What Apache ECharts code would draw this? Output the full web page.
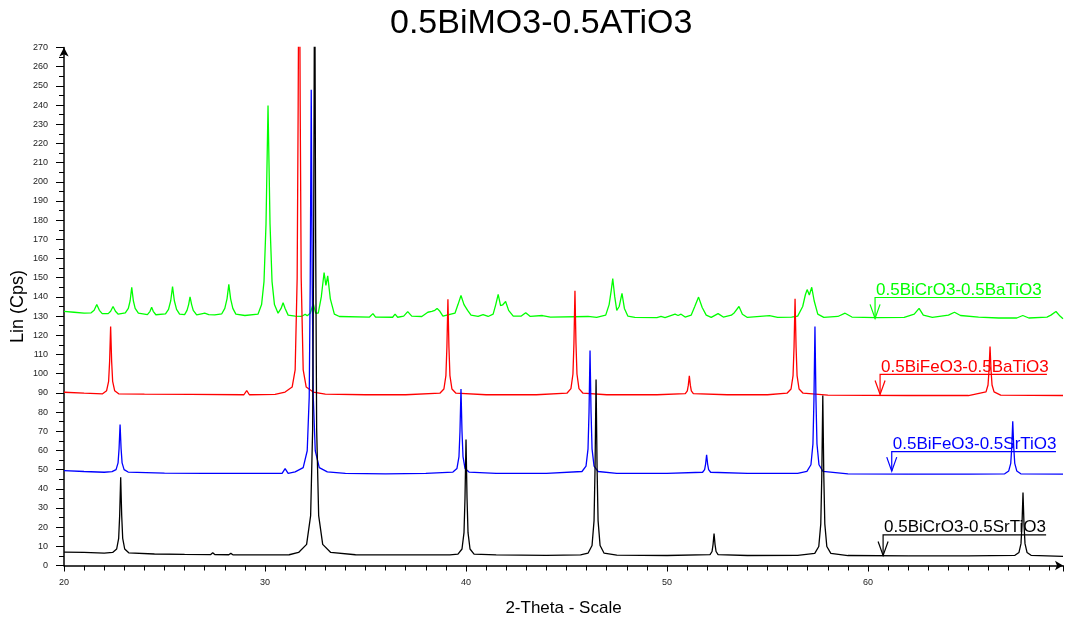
<!DOCTYPE html>
<html>
<head>
<meta charset="utf-8">
<script src="https://cdn.jsdelivr.net/npm/echarts@6/dist/echarts.min.js"></script>
<style>
html,body{margin:0;padding:0;background:#fff;}
#main{width:1065px;height:622px;}
</style>
</head>
<body>
<div id="main"></div>
<script>
// ---- data (2-theta, counts) ----
const titleText = '0.5BiMO3-0.5ATiO3';
const xAxisName = '2-Theta - Scale';
const yAxisName = 'Lin (Cps)';
const seriesNames = ['0.5BiCrO3-0.5BaTiO3', '0.5BiFeO3-0.5BaTiO3', '0.5BiFeO3-0.5SrTiO3', '0.5BiCrO3-0.5SrTiO3'];

const greenData = [
[20.0,132.5],[20.5,132],[21.0,131.5],[21.35,131.7],[21.5,133],[21.63,136],[21.76,133],[21.9,131.3],
[22.2,131.3],[22.32,132.5],[22.44,135],[22.56,132.5],[22.7,131],
[23.05,131.7],[23.2,134],[23.29,138],[23.37,145],[23.45,138],[23.54,134],[23.7,131.5],
[24.15,130.8],[24.28,132.5],[24.36,134.6],[24.44,132.5],[24.57,130.7],
[25.05,131.2],[25.2,133.5],[25.31,138],[25.4,145.4],[25.49,138],[25.6,133.5],[25.75,131],
[26.0,130.8],[26.12,133],[26.2,136],[26.27,140],[26.35,136],[26.43,133],[26.6,130.6],
[26.9,131.3],[27.0,131.5],[27.2,130.8],[27.5,130.6],
[27.85,131.2],[28.0,134],[28.11,139],[28.2,146.5],[28.29,139],[28.4,134],[28.55,131],
[29.0,130.3],[29.65,131],[29.83,136],[29.95,148],[30.05,178],[30.15,239.8],[30.25,178],[30.35,148],[30.47,136],[30.65,131.5],
[30.8,134],[30.9,137],[31.0,134],[31.15,130.5],
[31.5,130],[31.8,129.8],[31.9,130.3],[32.0,131],[32.1,130.2],[32.25,131.5],[32.4,136.5],[32.52,131.5],[32.65,131.5],[32.8,140],[32.94,152.7],[33.03,146],[33.12,151],[33.25,139],[33.45,131],[33.7,129.8],
[35.2,129.5],[35.37,131.3],[35.5,129.5],[36.35,129.4],[36.47,131],[36.6,129.4],[36.9,130],[37.1,132.3],[37.3,130],[37.8,129.8],[38.1,132],[38.3,132.5],[38.45,133],[38.56,134],[38.7,132.5],[38.85,130],
[39.45,131.5],[39.6,136],[39.75,140.7],[39.9,136],[40.08,133],[40.25,130.5],[40.6,129.8],[40.85,130.8],[41.1,129.8],
[41.35,131],[41.48,136],[41.6,141.3],[41.72,135.5],[41.82,135.8],[41.97,137.6],[42.12,133],[42.35,130],
[42.75,130],[42.97,131.8],[43.2,129.8],[43.8,130.3],[44.2,129.5],[46.07,129.8],[46.5,129.3],
[46.95,130.5],[47.12,136],[47.22,143],[47.3,149.6],[47.4,140],[47.5,133],[47.62,135],[47.76,141.8],[47.88,134],[48.05,130],[48.4,129.3],
[49.5,129.2],[49.7,129.8],[49.9,129.2],[50.4,131],[50.55,130.3],[50.7,131],[50.9,129.5],
[51.2,130.5],[51.38,135],[51.57,139.9],[51.75,134.5],[51.95,130.5],[52.2,129.3],
[52.54,131.3],[52.8,129.5],[53.2,130.5],[53.35,131.8],[53.58,135],[53.75,131],[54.0,129.3],
[55.1,130.2],[55.5,129.3],[56.2,129.5],[56.5,130],[56.75,135],[56.88,141],[56.97,143.8],[57.08,141],[57.2,145],[57.32,138],[57.5,131],[57.8,129.3],
[58.5,129.8],[58.86,131.5],[59.2,129.5],[60.4,129.2],[61.8,129.3],[62.3,131],[62.54,134],[62.75,130.5],[63.2,129.3],
[64.0,130.5],[64.3,132],[64.6,130.3],[65.5,129.5],[66.5,129],[67.4,129],[67.7,130.3],[68.0,129],[68.9,129.5],[69.1,130.5],[69.35,132.4],[69.55,130],[69.7,128.6]
];

const redData = [
[20.0,90.3],[21.0,89.8],[21.92,89.5],[22.12,91.1],[22.22,96],[22.27,106.5],[22.32,124.6],[22.37,106.5],[22.42,96],[22.52,91.1],[22.72,89.5],
[24.0,89.3],[26.3,89.2],[28.95,89.0],[29.09,91.2],[29.22,89.0],[30.5,89.2],
[31.0,90.4],[31.35,93],[31.5,102],[31.6,150],[31.65,240],[31.7,360],[31.75,240],[31.8,150],[31.9,102],[32.05,93],[32.4,90.4],[33.0,89.3],[35.0,89.0],
[37.0,89.0],[38.7,89.8],[38.9,92],[39.0,99],[39.05,114],[39.1,138.8],[39.15,114],[39.2,99],[39.3,92],[39.5,89.8],[41.0,89.0],
[43.5,89.0],[45.02,89.8],[45.22,92.2],[45.32,99.8],[45.37,116],[45.42,143.2],[45.47,116],[45.52,99.8],[45.62,92.2],[45.82,89.8],[47.0,89.0],
[49.5,89.0],[50.91,89.6],[51.01,91],[51.06,94],[51.11,98.9],[51.16,94],[51.21,91],[51.31,89.6],[53.0,89.0],
[55.0,89.0],[55.97,89.8],[56.17,92],[56.27,99],[56.32,114],[56.37,139],[56.42,114],[56.47,99],[56.57,92],[56.77,89.8],[58.0,88.8],
[62.0,88.6],[65.0,88.6],[65.87,90.5],[65.97,94.1],[66.02,101.8],[66.07,114.2],[66.12,101.8],[66.17,94.1],[66.27,90.5],[66.6,88.8],[69.7,88.6]
];

const blueData = [
[20.0,49.5],[21.0,49.0],[22.0,48.6],[22.39,48.9],[22.59,50],[22.69,53.5],[22.74,61],[22.79,73.5],[22.84,61],[22.89,53.5],[22.99,50],[23.19,48.7],
[25.0,48.2],[27.0,48.0],[29.0,48.0],[30.85,48.0],[31.0,50.5],[31.15,48.0],
[31.5,48.8],[31.9,51],[32.1,59.8],[32.2,88],[32.25,148],[32.3,248],[32.35,148],[32.4,88],[32.5,59.8],[32.7,51],[33.1,48.8],[34.0,48.0],
[36.0,47.8],[38.0,48.0],[39.35,48.7],[39.55,50.6],[39.65,56.8],[39.7,70],[39.75,92],[39.8,70],[39.85,56.8],[39.95,50.6],[40.15,48.7],[41.5,48.0],
[44.0,48.0],[45.77,49],[45.97,51.8],[46.07,60.8],[46.12,80],[46.17,112],[46.22,80],[46.27,60.8],[46.37,51.8],[46.57,49],[47.5,48.0],
[50.0,48.0],[51.77,48.6],[51.87,50],[51.92,52.9],[51.97,57.7],[52.02,52.9],[52.07,50],[52.17,48.6],[54.0,48.0],
[56.5,48.0],[56.96,49.1],[57.16,52.5],[57.26,63.4],[57.31,86.5],[57.36,124.6],[57.41,86.5],[57.46,63.4],[57.56,52.5],[57.76,49.1],[59.0,47.8],
[62.0,47.6],[65.0,47.6],[66.8,47.8],[67.0,49.3],[67.1,53.2],[67.15,61.5],[67.2,75.2],[67.25,61.5],[67.3,53.2],[67.4,49.3],[67.6,47.8],[69.7,47.6]
];

const blackData = [
[20.0,7.0],[21.0,6.8],[22.0,6.5],
[22.42,6.8],[22.62,8.6],[22.72,14.2],[22.77,26.2],[22.82,46],[22.87,26.2],[22.92,14.2],[23.02,8.6],[23.22,6.6],
[24.5,6.0],[26.0,5.8],[27.3,5.7],[27.4,6.6],[27.5,5.7],[28.2,5.6],[28.3,6.3],[28.4,5.6],[30.0,5.5],[31.2,5.6],
[31.67,6.8],[32.07,11],[32.27,26],[32.37,71],[32.42,170],[32.47,330],[32.52,170],[32.57,71],[32.67,26],[32.87,11],[33.27,6.8],[34.5,5.6],
[36.0,5.5],[38.0,5.5],[39.2,5.5],[39.6,5.9],[39.8,8.6],[39.9,17.1],[39.95,35.3],[40.0,65.7],[40.05,35.3],[40.1,17.1],[40.2,8.6],[40.4,5.9],[41.5,5.5],
[44.0,5.3],[45.7,5.5],[46.07,6.4],[46.27,10.4],[46.37,23.4],[46.42,51],[46.47,97],[46.52,51],[46.57,23.4],[46.67,10.4],[46.87,6.4],[47.5,5.4],
[50.0,5.2],[52.14,5.7],[52.24,7.3],[52.29,10.9],[52.34,16.7],[52.39,10.9],[52.44,7.3],[52.54,5.7],[54.0,5.2],
[56.5,5.3],[57.35,6.3],[57.55,9.9],[57.65,21.7],[57.7,46.8],[57.75,88.6],[57.8,46.8],[57.85,21.7],[57.95,9.9],[58.15,6.3],[59.0,5.2],
[62.0,5.0],[65.0,5.0],[67.31,5.3],[67.51,6.8],[67.61,11.4],[67.66,21.3],[67.71,38],[67.76,21.3],[67.81,11.4],[67.91,6.8],[68.11,5.3],[69.7,4.8]
];

// axis ranges
const xMin = 20, xMax = 69.7, xStep = 10;
const yMin = 0, yMax = 270, yStep = 10;

// curve annotations: [arrow x, underline y, arrow tip y, underline end x] in data units
const annoGreen = [60.35, 139.7, 128.8, 68.59];
const annoRed   = [60.6, 99.6, 89.1, 68.9];
const annoBlue  = [61.18, 59.4, 49.2, 69.35];
const annoBlack = [60.75, 16.0, 5.2, 68.86];

// ---- chart ----
const colors = ['#00ff00', '#ff0000', '#0000ff', '#000000'];
const datasets = [greenData, redData, blueData, blackData];
const annos = [annoGreen, annoRed, annoBlue, annoBlack];
const FONT = 'Liberation Sans, Arial, sans-serif';
const NARROW = 'Liberation Sans Narrow, Arial Narrow, Liberation Sans, Arial, sans-serif';

const chart = echarts.init(document.getElementById('main'), null, {renderer: 'canvas'});
const option = {
  animation: false,
  backgroundColor: '#ffffff',
  title: {
    text: titleText, left: 385, top: 2,
    textStyle: {fontFamily: FONT, fontSize: 34, fontWeight: 'normal', color: '#000'}
  },
  grid: {left: 64, right: 2, top: 47.5, bottom: 56.5, containLabel: false, outerBoundsMode: 'none'},
  xAxis: {
    type: 'value', min: xMin, max: xMax, interval: xStep,
    name: xAxisName, nameLocation: 'middle', nameGap: 34, nameMoveOverlap: false,
    nameTextStyle: {fontFamily: FONT, fontSize: 17, color: '#000'},
    axisLine: {show: true, lineStyle: {color: '#000', width: 1.5}, symbol: ['none', 'arrow'], symbolSize: [7, 8]},
    axisTick: {show: true, length: 6, lineStyle: {color: '#000'}},
    minorTick: {show: true, splitNumber: 10, length: 5, lineStyle: {color: '#000'}},
    axisLabel: {fontFamily: NARROW, fontSize: 9, color: '#222', margin: 13, showMaxLabel: false},
    splitLine: {show: false}
  },
  yAxis: {
    type: 'value', min: yMin, max: yMax, interval: yStep,
    name: yAxisName, nameLocation: 'middle', nameGap: 37, nameRotate: 90, nameMoveOverlap: false,
    nameTextStyle: {fontFamily: FONT, fontSize: 18, color: '#000'},
    axisLine: {show: true, lineStyle: {color: '#000', width: 1.5}, symbol: ['none', 'arrow'], symbolSize: [7, 9]},
    axisTick: {show: true, length: 8, lineStyle: {color: '#000'}},
    minorTick: {show: true, splitNumber: 2, length: 5, lineStyle: {color: '#000'}},
    axisLabel: {fontFamily: NARROW, fontSize: 9, color: '#222', margin: 16},
    splitLine: {show: false}
  },
  series: datasets.map((d, i) => ({
    name: seriesNames[i], type: 'line', data: d, showSymbol: false, symbol: 'none',
    clip: true, z: 2 + i,
    lineStyle: {color: colors[i], width: 1.3}
  }))
};
chart.setOption(option);

function buildGraphics() {
  const g = [];
  annos.forEach((a, i) => {
    const p0 = chart.convertToPixel({gridIndex: 0}, [a[0], a[1]]);
    const p1 = chart.convertToPixel({gridIndex: 0}, [a[0], a[2]]);
    const p2 = chart.convertToPixel({gridIndex: 0}, [a[3], a[1]]);
    g.push({
      type: 'polyline', z: 50,
      shape: {points: [[p2[0], p0[1]], [p0[0], p0[1]], [p1[0], p1[1]]]},
      style: {stroke: colors[i], lineWidth: 1.2, fill: null}
    });
    g.push({
      type: 'polyline', z: 50,
      shape: {points: [[p1[0] - 5, p1[1] - 14], [p1[0], p1[1]], [p1[0] + 5, p1[1] - 14]]},
      style: {stroke: colors[i], lineWidth: 1.2, fill: null}
    });
    g.push({
      type: 'text', z: 50, x: p0[0] + 1, y: p0[1] + 1,
      style: {text: seriesNames[i], fill: colors[i], font: '17px ' + FONT, textAlign: 'left', textVerticalAlign: 'bottom'}
    });
  });
  chart.setOption({graphic: g});
}
buildGraphics();
</script>
</body>
</html>
